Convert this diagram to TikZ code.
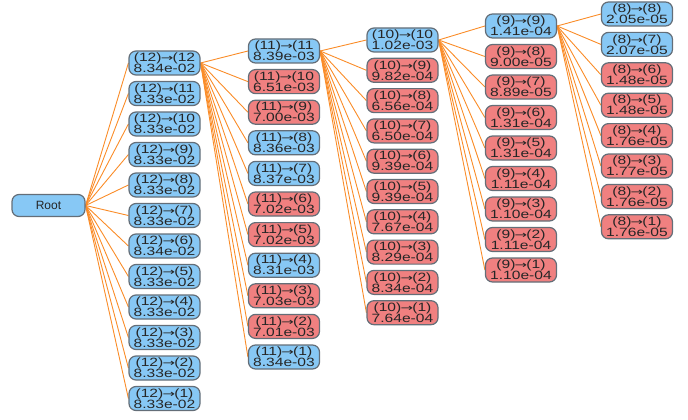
\documentclass[tikz,border=0pt]{standalone}
\usepackage{fontspec}
\usepackage{graphicx}
\setmainfont{Liberation Sans}
\newfontfamily\boxfont[FakeStretch=1.3]{Liberation Sans}
\newfontfamily\arrowfont{DejaVu Sans}
\newcommand\linkarrow{{\arrowfont\fontsize{10}{11}\selectfont\kern-0.8pt\scalebox{1.5}[1]{→}\kern-0.8pt}}
\usetikzlibrary{backgrounds}
\definecolor{nodeblue}{RGB}{135,200,245}
\definecolor{nodered}{RGB}{240,128,128}
\definecolor{nodeedge}{RGB}{100,110,120}
\definecolor{linkorange}{RGB}{250,140,40}
\tikzset{
  tree box/.style={draw=nodeedge, line width=1.2pt, rounded corners=7pt,
    minimum width=71pt, minimum height=24pt, inner sep=0pt, align=center,
    font=\boxfont\fontsize{12}{11}\selectfont, text=black!85},
  link/.style={draw=linkorange, line width=0.9pt},
}
\begin{document}
\begin{tikzpicture}[x=1pt,y=-1pt]
\useasboundingbox (0,0) rectangle (688,420);

% root
\node[tree box, fill=nodeblue, minimum width=73pt, minimum height=22pt,
      font=\fontsize{12}{12}\selectfont] (root) at (48.5,205.5) {Root};

% level 12
\foreach \k/\c/\a/\b in {
  0/nodeblue/(12)\linkarrow(12/8.34e-02, 1/nodeblue/(12)\linkarrow(11/8.33e-02,
  2/nodeblue/(12)\linkarrow(10/8.33e-02, 3/nodeblue/(12)\linkarrow(9)/8.33e-02,
  4/nodeblue/(12)\linkarrow(8)/8.33e-02, 5/nodeblue/(12)\linkarrow(7)/8.33e-02,
  6/nodeblue/(12)\linkarrow(6)/8.34e-02, 7/nodeblue/(12)\linkarrow(5)/8.33e-02,
  8/nodeblue/(12)\linkarrow(4)/8.33e-02, 9/nodeblue/(12)\linkarrow(3)/8.33e-02,
  10/nodeblue/(12)\linkarrow(2)/8.33e-02, 11/nodeblue/(12)\linkarrow(1)/8.33e-02}
  \node[tree box, fill=\c] (a\k) at (164.5,{63+30.5*\k}) {\a\\\b};

% level 11
\foreach \k/\c/\a/\b in {
  0/nodeblue/(11)\linkarrow(11/8.39e-03, 1/nodered/(11)\linkarrow(10/6.51e-03,
  2/nodered/(11)\linkarrow(9)/7.00e-03, 3/nodeblue/(11)\linkarrow(8)/8.36e-03,
  4/nodeblue/(11)\linkarrow(7)/8.37e-03, 5/nodered/(11)\linkarrow(6)/7.02e-03,
  6/nodered/(11)\linkarrow(5)/7.02e-03, 7/nodeblue/(11)\linkarrow(4)/8.31e-03,
  8/nodered/(11)\linkarrow(3)/7.03e-03, 9/nodered/(11)\linkarrow(2)/7.01e-03,
  10/nodeblue/(11)\linkarrow(1)/8.34e-03}
  \node[tree box, fill=\c] (b\k) at (284,{51+30.6*\k}) {\a\\\b};

% level 10
\foreach \k/\c/\a/\b in {
  0/nodeblue/(10)\linkarrow(10/1.02e-03, 1/nodered/(10)\linkarrow(9)/9.82e-04,
  2/nodered/(10)\linkarrow(8)/6.56e-04, 3/nodered/(10)\linkarrow(7)/6.50e-04,
  4/nodered/(10)\linkarrow(6)/9.39e-04, 5/nodered/(10)\linkarrow(5)/9.39e-04,
  6/nodered/(10)\linkarrow(4)/7.67e-04, 7/nodered/(10)\linkarrow(3)/8.29e-04,
  8/nodered/(10)\linkarrow(2)/8.34e-04, 9/nodered/(10)\linkarrow(1)/7.64e-04}
  \node[tree box, fill=\c] (c\k) at (402.5,{40+30.3*\k}) {\a\\\b};

% level 9
\foreach \k/\c/\a/\b in {
  0/nodeblue/(9)\linkarrow(9)/1.41e-04, 1/nodered/(9)\linkarrow(8)/9.00e-05,
  2/nodered/(9)\linkarrow(7)/8.89e-05, 3/nodered/(9)\linkarrow(6)/1.31e-04,
  4/nodered/(9)\linkarrow(5)/1.31e-04, 5/nodered/(9)\linkarrow(4)/1.11e-04,
  6/nodered/(9)\linkarrow(3)/1.10e-04, 7/nodered/(9)\linkarrow(2)/1.11e-04,
  8/nodered/(9)\linkarrow(1)/1.10e-04}
  \node[tree box, fill=\c] (d\k) at (521,{26+30.5*\k}) {\a\\\b};

% level 8
\foreach \k/\c/\a/\b in {
  0/nodeblue/(8)\linkarrow(8)/2.05e-05, 1/nodeblue/(8)\linkarrow(7)/2.07e-05,
  2/nodered/(8)\linkarrow(6)/1.48e-05, 3/nodered/(8)\linkarrow(5)/1.48e-05,
  4/nodered/(8)\linkarrow(4)/1.76e-05, 5/nodered/(8)\linkarrow(3)/1.77e-05,
  6/nodered/(8)\linkarrow(2)/1.76e-05, 7/nodered/(8)\linkarrow(1)/1.76e-05}
  \node[tree box, fill=\c] (e\k) at (637,{14+30.4*\k}) {\a\\\b};

% connectors behind the boxes
\begin{scope}[on background layer]
  \foreach \k in {0,...,11} \draw[link] (root.east) -- (a\k.west);
  \foreach \k in {0,...,10} \draw[link] (a0.east) -- (b\k.west);
  \foreach \k in {0,...,9}  \draw[link] (b0.east) -- (c\k.west);
  \foreach \k in {0,...,8}  \draw[link] (c0.east) -- (d\k.west);
  \foreach \k in {0,...,7}  \draw[link] (d0.east) -- (e\k.west);
\end{scope}
\end{tikzpicture}
\end{document}
